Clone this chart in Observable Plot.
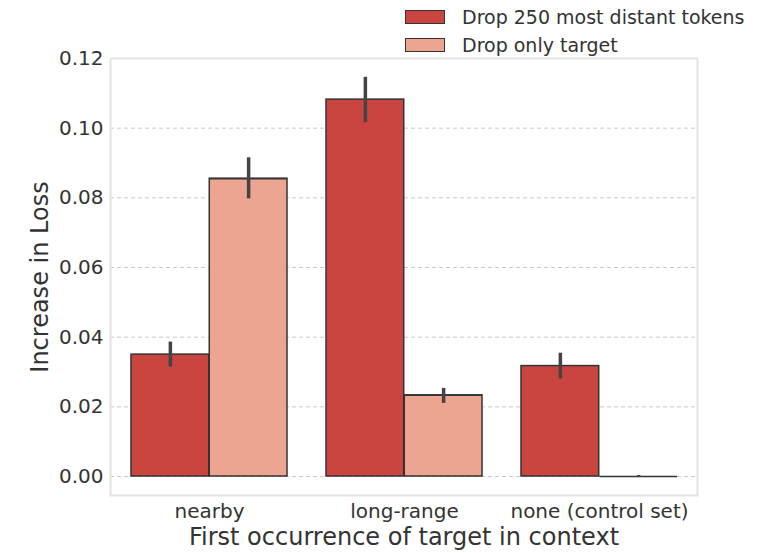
<!DOCTYPE html>
<html><head><meta charset="utf-8">
<script src="https://cdn.jsdelivr.net/npm/d3@7"></script>
<script src="https://cdn.jsdelivr.net/npm/@observablehq/plot@0.6"></script>
<style>
body{margin:0;background:#fff;font-family:"DejaVu Sans",sans-serif}
#wrap{position:relative;width:774px;height:553px}
#legend{position:absolute;left:405px;top:3px;font-size:19px;color:#333}
#legend .row{display:flex;align-items:center;height:28px}
#legend .sw{width:38px;height:12px;border:1.5px solid #333;margin-right:17px}
svg [aria-label="y-axis label"] text, svg [aria-label="x-axis label"] text{font-size:24px}
</style></head><body>
<div id="wrap"><div id="legend"></div></div>
<script>
const categories = ["nearby", "long-range", "none (control set)"];
const series = ["Drop 250 most distant tokens", "Drop only target"];
const colors = ["#cb4540", "#eca591"];
const drop250 = [0.0350, 0.1082, 0.0317];
const drop250Lo = [0.0314, 0.1016, 0.0280];
const drop250Hi = [0.0386, 0.1146, 0.0354];
const dropTarget = [0.0855, 0.0233, 0.0];
const dropTargetLo = [0.0797, 0.0210, -0.0003];
const dropTargetHi = [0.0915, 0.0253, 0.0003];
const yTicks = [0, 0.02, 0.04, 0.06, 0.08, 0.10, 0.12];

const W = 774, H = 553, mL = 110, mR = 77, mT = 58, mB = 58;
const padIn = 0.2, padOut = 0.1;
const bw = (W - mL - mR) / (categories.length - padIn + 2 * padOut) * (1 - padIn);
const half = bw / 2;

const rowsA = categories.map((c, i) => ({category: c, value: drop250[i], lo: drop250Lo[i], hi: drop250Hi[i]}));
const rowsB = categories.map((c, i) => ({category: c, value: dropTarget[i], lo: dropTargetLo[i], hi: dropTargetHi[i]}));

const plot = Plot.plot({
  width: W, height: H,
  marginLeft: mL, marginRight: mR, marginTop: mT, marginBottom: mB,
  style: {fontFamily: "DejaVu Sans", fontSize: "20px", color: "#333", background: "transparent"},
  x: {domain: categories, paddingInner: padIn, paddingOuter: padOut, align: 0.5},
  y: {domain: [-0.00545, 0.12]},
  marks: [
    Plot.gridY(yTicks, {stroke: "#c8c8c8", strokeOpacity: 1, strokeDasharray: "4,3"}),
    Plot.frame({stroke: "#e2e2e2", strokeWidth: 2}),
    Plot.barY(rowsA, {x: "category", y: "value", fill: colors[0], stroke: "#333", strokeWidth: 1.5, insetRight: half}),
    Plot.barY(rowsB, {x: "category", y: "value", fill: colors[1], stroke: "#333", strokeWidth: 1.5, insetLeft: half}),
    Plot.tickY(rowsB, {x: "category", y: "value", insetLeft: half, stroke: "#333", strokeWidth: 1.5}),
    Plot.ruleX(rowsA, {x: "category", y1: "lo", y2: "hi", dx: -half / 2, stroke: "#444", strokeWidth: 3.5}),
    Plot.ruleX(rowsB, {x: "category", y1: "lo", y2: "hi", dx: half / 2, stroke: "#444", strokeWidth: 3.5}),
    Plot.axisY(yTicks, {tickSize: 0, tickPadding: 7, tickFormat: d3.format(".2f"), label: "Increase in Loss", labelAnchor: "center", labelOffset: 80, labelArrow: "none"}),
    Plot.axisX({tickSize: 0, tickPadding: 8, label: "First occurrence of target in context", labelAnchor: "center", labelOffset: 49, labelArrow: "none"})
  ]
});
const wrap = document.getElementById("wrap");
wrap.appendChild(plot);
plot.style.position = "absolute"; plot.style.left = "0"; plot.style.top = "0";
const legend = document.getElementById("legend");
wrap.appendChild(legend);
series.forEach((s, i) => {
  const row = document.createElement("div"); row.className = "row";
  const sw = document.createElement("div"); sw.className = "sw"; sw.style.background = colors[i];
  const t = document.createElement("span"); t.textContent = s;
  row.appendChild(sw); row.appendChild(t); legend.appendChild(row);
});
</script>
</body></html>
